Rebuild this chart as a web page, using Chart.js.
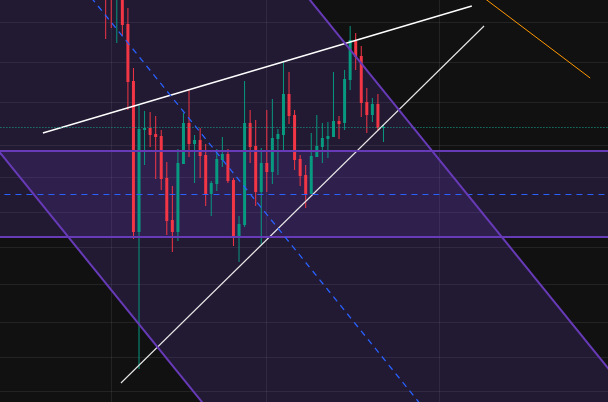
<!DOCTYPE html>
<html>
<head>
<meta charset="utf-8">
<script src="https://cdn.jsdelivr.net/npm/chart.js@4.4.1/dist/chart.umd.min.js"></script>
<style>
  html, body { margin: 0; padding: 0; background: #111111; }
  #wrap { width: 608px; height: 402px; }
</style>
</head>
<body>
<div id="wrap"><canvas id="myChart" width="608" height="402"></canvas></div>
<script>
// candles (x = bar index)
const opens  = [104.0, 103.2, 100.3, 101.5, 97.6, 91.9, 76.8, 87.0, 87.2, 86.6, 86.4, 82.2, 78.0, 76.8, 83.6, 87.7, 85.6, 86.0, 84.5, 80.6, 81.6, 84.0, 84.6, 82.0, 76.3, 77.5, 87.7, 85.4, 80.8, 83.7, 82.8, 86.1, 86.5, 90.6, 88.5, 84.1, 82.5, 80.6, 84.3, 85.3, 86.1, 86.3, 87.9, 87.7, 92.0, 95.9, 94.4, 89.8, 88.5, 89.6, 87.2];
const highs  = [104.5, 103.8, 102.6, 102.0, 99.2, 93.2, 89.6, 88.9, 88.8, 88.4, 87.0, 83.8, 81.4, 85.1, 88.7, 91.1, 86.5, 87.2, 85.6, 81.9, 85.1, 86.3, 85.1, 82.2, 78.4, 91.9, 89.0, 88.0, 85.2, 89.0, 90.1, 87.1, 93.8, 92.8, 89.0, 84.5, 83.5, 86.7, 88.5, 87.7, 87.8, 92.8, 88.4, 93.0, 97.4, 96.7, 95.4, 91.2, 90.2, 90.6, 87.5];
const lows   = [96.1, 97.2, 95.7, 96.4, 89.0, 76.1, 63.1, 83.5, 85.3, 82.1, 81.0, 76.5, 74.8, 75.9, 83.6, 84.3, 81.7, 82.2, 79.4, 78.4, 80.9, 83.3, 81.7, 75.4, 73.8, 77.3, 83.7, 79.4, 75.5, 80.8, 81.6, 82.5, 85.0, 87.6, 83.0, 81.4, 79.2, 80.6, 84.3, 83.7, 84.2, 86.3, 86.1, 87.0, 91.0, 93.0, 88.3, 86.7, 87.8, 86.9, 85.8];
const closes = [100.6, 100.4, 102.0, 97.5, 91.8, 76.8, 87.1, 87.2, 86.5, 86.3, 82.1, 77.9, 76.8, 83.7, 87.7, 85.6, 86.0, 84.4, 80.6, 81.7, 84.1, 84.6, 81.9, 76.3, 77.6, 87.7, 85.3, 80.8, 83.7, 82.8, 86.2, 86.6, 90.6, 88.4, 84.0, 82.4, 80.6, 84.4, 85.4, 86.2, 86.4, 87.9, 87.6, 92.1, 96.0, 94.3, 89.7, 88.5, 89.6, 87.2, 87.3];

// grid (time / price levels)
const timeTicks = [1, 29, 60];
const priceTicks = [97.7, 93.8, 89.8, 85.45, 82.2, 78.8, 75.3, 71.6, 67.7, 64.3, 60.9];

// drawings, [barIndex, price]
const upperTrend = [[-11.3, 86.7], [65.9, 99.4]];
const lowerTrend = [[2.75, 61.7], [68.1, 97.4]];
const orangeLine = [[67.4, 100.5], [87.2, 92.2]];
const channelTop = [[-40, 152.67], [110, 49.75]];
const channelBottom = [[-40, 99.14], [110, -3.79]];
const channelMid = [[-40, 125.9], [110, 22.98]];
const bandTop = [[-40, 84.9], [110, 84.9]];
const bandBottom = [[-40, 76.3], [110, 76.3]];
const bandMid = [[-40, 80.55], [110, 80.55]];
const lastPrice = 87.25;

const UP = '#089981', DOWN = '#f23645';
const PURPLE = '#673ab7', FILL = 'rgba(103,58,183,0.2)', BLUE = '#2962ff';

const pts = arr => arr.map(p => ({x: p[0], y: p[1]}));
const colors = opens.map((o, i) => closes[i] >= o ? UP : DOWN);

function line(data, color, extra) {
    return Object.assign({
        type: 'line',
        data: pts(data),
        borderColor: color,
        borderWidth: 1,
        pointRadius: 0,
        tension: 0,
        fill: false,
        order: -1
    }, extra || {});
}

const ctx = document.getElementById('myChart');
const chart = new Chart(ctx, {
    type: 'line',
    data: {
        datasets: [
            {
                type: 'bar',
                data: opens.map((o, i) => ({x: i, y: [o, closes[i]]})),
                backgroundColor: colors,
                barThickness: 3,
                minBarLength: 1,
                inflateAmount: 0,
                borderWidth: 0,
                grouped: false,
                order: 0
            },
            {
                type: 'bar',
                data: lows.map((l, i) => ({x: i, y: [l, highs[i]]})),
                backgroundColor: colors,
                barThickness: 1,
                inflateAmount: 0,
                borderWidth: 0,
                grouped: false,
                order: 1
            },
            line(channelTop, PURPLE, {borderWidth: 2, fill: 3, backgroundColor: FILL}),
            line(channelBottom, PURPLE, {borderWidth: 2}),
            line(channelMid, BLUE, {borderWidth: 1.3, borderDash: [6, 5]}),
            line(bandTop, PURPLE, {borderWidth: 2, fill: 6, backgroundColor: FILL}),
            line(bandBottom, PURPLE, {borderWidth: 2}),
            line(bandMid, BLUE, {borderDash: [6, 5]}),
            line([[-40, lastPrice], [110, lastPrice]], '#1aa88f', {borderDash: [1, 2]}),
            line(upperTrend, '#ffffff', {borderWidth: 1.4}),
            line(lowerTrend, '#e8e8e8', {borderWidth: 1.1}),
            line(orangeLine, '#ff9800')
        ]
    },
    options: {
        responsive: false,
        animation: false,
        devicePixelRatio: 1,
        layout: { padding: 0, autoPadding: false },
        plugins: {
            legend: { display: false },
            tooltip: { enabled: false },
            filler: { drawTime: 'beforeDatasetsDraw' }
        },
        scales: {
            x: {
                type: 'linear',
                min: -19.02,
                max: 90.41,
                offset: false,
                afterBuildTicks: s => { s.ticks = timeTicks.map(v => ({value: v})); },
                ticks: { display: false },
                grid: { color: 'rgba(255,255,255,0.08)', drawTicks: false, offset: false },
                border: { display: false }
            },
            y: {
                type: 'linear',
                min: 59.8,
                max: 100,
                afterBuildTicks: s => { s.ticks = priceTicks.map(v => ({value: v})); },
                ticks: { display: false },
                grid: { color: 'rgba(255,255,255,0.08)', drawTicks: false },
                border: { display: false }
            }
        }
    }
});
</script>
</body>
</html>
